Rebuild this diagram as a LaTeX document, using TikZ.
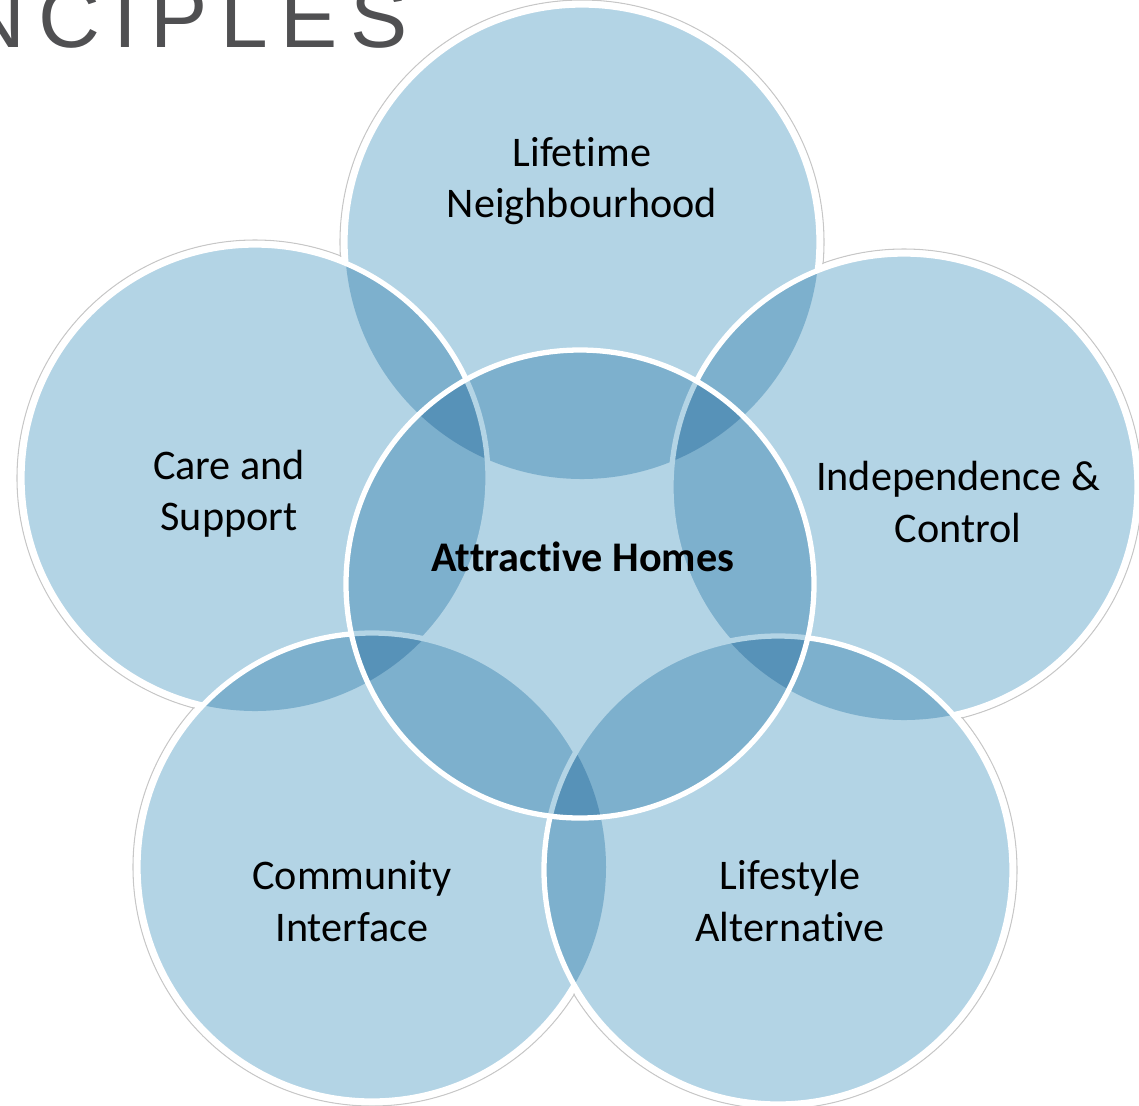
\documentclass[tikz,border=0pt]{standalone}
\usepackage{fontspec}
\setmainfont{Carlito}[Ligatures=NoCommon]
\newfontfamily\headfont[LetterSpace=15]{Liberation Sans}
\usepackage{tikz}
\definecolor{vennblue}{RGB}{179,212,229}
\definecolor{headgray}{RGB}{80,80,82}
\tikzset{%
  ring/.style={fill=vennblue, blend mode=multiply},
  rim/.style={draw=white, line width=1.5pt},
  halo/.style={draw=black!22, line width=0.3pt},
  venntext/.style={align=center, text=black, font=\fontsize{12}{14.6}\selectfont},
}

\begin{document}
\begin{tikzpicture}[x=0.01cm, y=-0.01cm]
	\clip (0,0) rectangle (1139,1105);
	% centres of the six circles
	\coordinate (lifetime) at (582,242);
	\coordinate (care) at (255,478);
	\coordinate (indep) at (904,487);
	\coordinate (community) at (372,867);
	\coordinate (lifestyle) at (778,870);
	\coordinate (homes) at (580,584);
	% thin grey halo round the outer ring, then blank it out inside
	\draw[halo] (lifetime) circle[radius=242] (care) circle[radius=238] (indep) circle[radius=238] (community) circle[radius=239] (lifestyle) circle[radius=239];
	\fill[white] (lifetime) circle[radius=241] (care) circle[radius=237] (indep) circle[radius=237] (community) circle[radius=238] (lifestyle) circle[radius=238] (homes) circle[radius=236];
	% outer circles, each rim hidden under the ones that follow
	\fill[ring] (lifetime) circle[radius=237];
	\begin{scope}[even odd rule]
		\clip (0,0) rectangle (1139,1105) (care) circle[radius=233] (indep) circle[radius=233];
		\clip (0,0) rectangle (1139,1105) (homes) circle[radius=234];
		\draw[rim] (lifetime) circle[radius=237];
	\end{scope}
	\fill[ring] (care) circle[radius=233];
	\begin{scope}[even odd rule]
		\clip (0,0) rectangle (1139,1105) (community) circle[radius=234];
		\draw[rim] (care) circle[radius=233];
	\end{scope}
	\fill[ring] (indep) circle[radius=233];
	\begin{scope}[even odd rule]
		\clip (0,0) rectangle (1139,1105) (lifestyle) circle[radius=234];
		\draw[rim] (indep) circle[radius=233];
	\end{scope}
	\fill[ring] (community) circle[radius=234];
	\begin{scope}[even odd rule]
		\clip (0,0) rectangle (1139,1105) (lifestyle) circle[radius=234];
		\draw[rim] (community) circle[radius=234];
	\end{scope}
	\fill[ring] (lifestyle) circle[radius=234];
	\draw[rim] (lifestyle) circle[radius=234];
	% middle circle last
	\fill[ring] (homes) circle[radius=234];
	\draw[rim] (homes) circle[radius=234];
	% texts
	\node[anchor=base west, inner sep=0pt, text=headgray, font=\headfont\fontsize{24.4}{28}\selectfont] (heading) at (-37,47) {NCIPLES};
	\node[venntext] (lifetimetext) at (582,181) {Lifetime\\Neighbourhood};
	\node[venntext] (caretext) at (229,494) {Care and\\Support};
	\node[venntext] (indeptext) at (958,502) {Independence \&\\Control};
	\node[venntext, font=\bfseries\fontsize{12}{14.6}\selectfont] (homestext) at (583,557) {Attractive Homes};
	\node[venntext] (communitytext) at (352,901) {Community\\Interface};
	\node[venntext] (lifestyletext) at (790,901) {Lifestyle\\Alternative};
\end{tikzpicture}
\end{document}
